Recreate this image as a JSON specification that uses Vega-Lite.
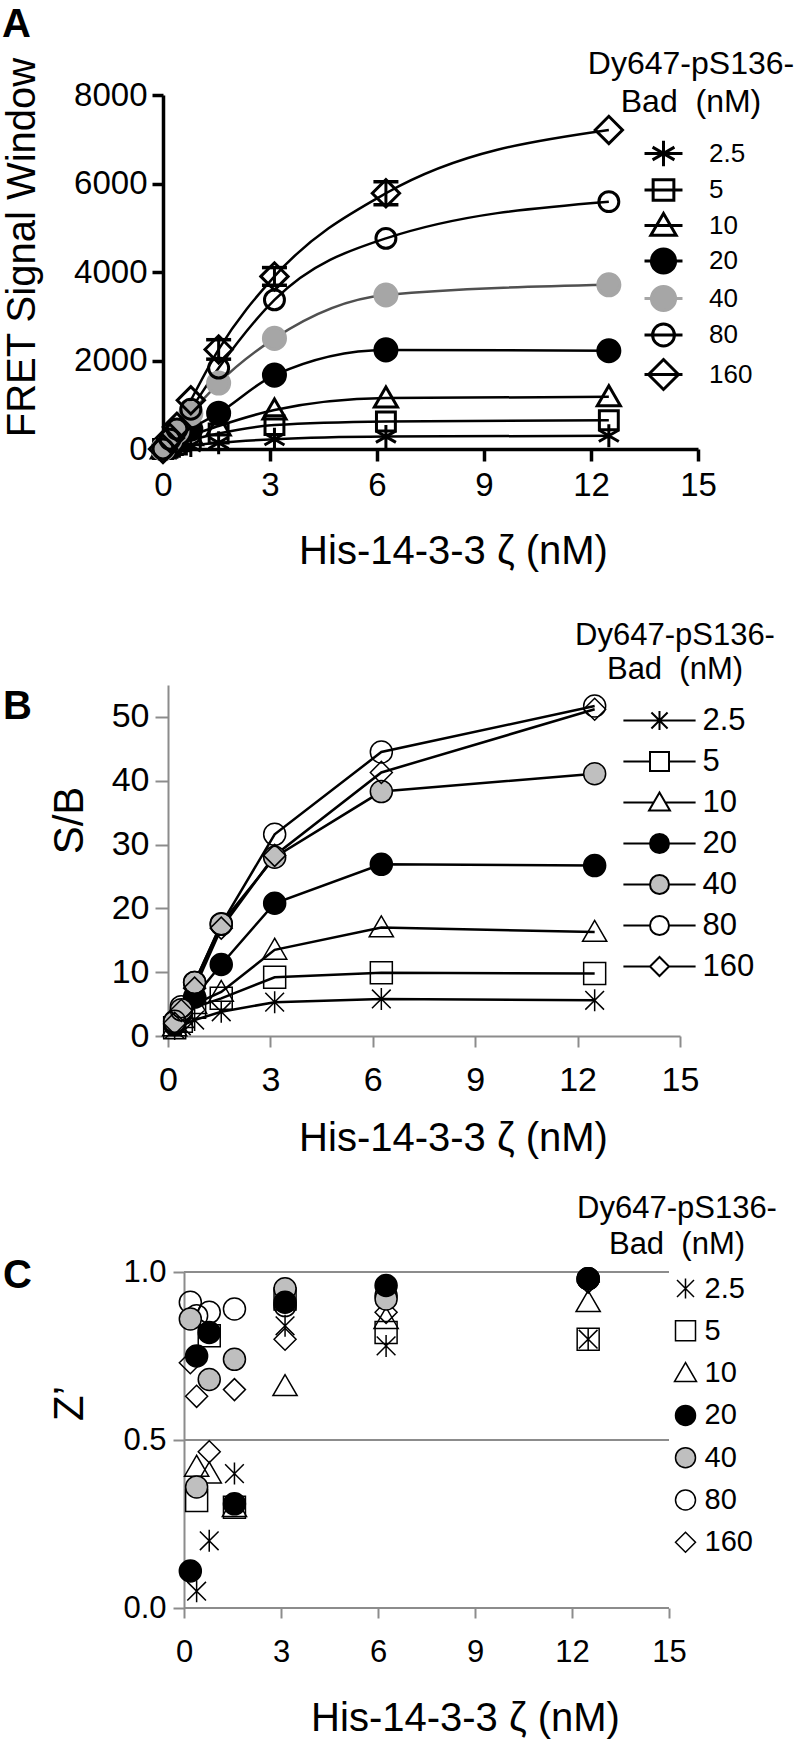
{
  "$schema": "https://vega.github.io/schema/vega-lite/v6.json",
  "autosize": {"type": "none"},
  "padding": {"left": 163, "top": 95, "right": 637, "bottom": 1645},
  "background": "white",
  "spacing": 236,
  "bounds": "flush",
  "resolve": {
    "scale": {"x": "independent", "y": "independent", "shape": "independent", "fill": "independent", "stroke": "independent"},
    "legend": {"shape": "independent", "fill": "independent", "stroke": "independent"}
  },
  "config": {
    "view": {"stroke": null},
    "font": "Liberation Sans",
    "axis": {"grid": false, "labelFont": "Liberation Sans", "titleFont": "Liberation Sans", "labelColor": "black", "titleColor": "black", "titleFontWeight": "normal", "labelFlush": false, "labelOverlap": false},
    "legend": {"titleFont": "Liberation Sans", "labelFont": "Liberation Sans", "titleColor": "black", "labelColor": "black", "titleFontWeight": "normal", "padding": 0, "labelLimit": 0, "titleLimit": 0},
    "title": {"font": "Liberation Sans", "color": "black"}
  },
  "datasets": {
    "A": [
      {"conc": "2.5", "x": 0, "v": 0}, {"conc": "2.5", "x": 0.195, "v": 20}, {"conc": "2.5", "x": 0.39, "v": 40}, {"conc": "2.5", "x": 0.78, "v": 80}, {"conc": "2.5", "x": 1.56, "v": 140}, {"conc": "2.5", "x": 3.125, "v": 220}, {"conc": "2.5", "x": 6.25, "v": 280}, {"conc": "2.5", "x": 12.5, "v": 300},
      {"conc": "5", "x": 0, "v": 0}, {"conc": "5", "x": 0.195, "v": 50}, {"conc": "5", "x": 0.39, "v": 100}, {"conc": "5", "x": 0.78, "v": 200}, {"conc": "5", "x": 1.56, "v": 350}, {"conc": "5", "x": 3.125, "v": 540}, {"conc": "5", "x": 6.25, "v": 620}, {"conc": "5", "x": 12.5, "v": 650},
      {"conc": "10", "x": 0, "v": 0}, {"conc": "10", "x": 0.195, "v": 80}, {"conc": "10", "x": 0.39, "v": 160}, {"conc": "10", "x": 0.78, "v": 300}, {"conc": "10", "x": 1.56, "v": 520}, {"conc": "10", "x": 3.125, "v": 880}, {"conc": "10", "x": 6.25, "v": 1150}, {"conc": "10", "x": 12.5, "v": 1180},
      {"conc": "20", "x": 0, "v": 0}, {"conc": "20", "x": 0.195, "v": 120}, {"conc": "20", "x": 0.39, "v": 230}, {"conc": "20", "x": 0.78, "v": 450}, {"conc": "20", "x": 1.56, "v": 810}, {"conc": "20", "x": 3.125, "v": 1670}, {"conc": "20", "x": 6.25, "v": 2240}, {"conc": "20", "x": 12.5, "v": 2220},
      {"conc": "40", "x": 0, "v": 0}, {"conc": "40", "x": 0.195, "v": 200}, {"conc": "40", "x": 0.39, "v": 400}, {"conc": "40", "x": 0.78, "v": 800}, {"conc": "40", "x": 1.56, "v": 1490}, {"conc": "40", "x": 3.125, "v": 2500}, {"conc": "40", "x": 6.25, "v": 3480}, {"conc": "40", "x": 12.5, "v": 3710},
      {"conc": "80", "x": 0, "v": 0}, {"conc": "80", "x": 0.195, "v": 220}, {"conc": "80", "x": 0.39, "v": 450}, {"conc": "80", "x": 0.78, "v": 900}, {"conc": "80", "x": 1.56, "v": 1830}, {"conc": "80", "x": 3.125, "v": 3370}, {"conc": "80", "x": 6.25, "v": 4760}, {"conc": "80", "x": 12.5, "v": 5590},
      {"conc": "160", "x": 0, "v": 0}, {"conc": "160", "x": 0.195, "v": 250}, {"conc": "160", "x": 0.39, "v": 500}, {"conc": "160", "x": 0.78, "v": 1100}, {"conc": "160", "x": 1.56, "v": 2250}, {"conc": "160", "x": 3.125, "v": 3900}, {"conc": "160", "x": 6.25, "v": 5780}, {"conc": "160", "x": 12.5, "v": 7210}
    ],
    "errA": [
      {"x": 1.56, "lo": 2030, "hi": 2470},
      {"x": 3.125, "lo": 3700, "hi": 4100},
      {"x": 6.25, "lo": 5520, "hi": 6040}
    ],
    "B": [
      {"conc": "2.5", "x": 0.195, "v": 1.1}, {"conc": "2.5", "x": 0.39, "v": 1.6}, {"conc": "2.5", "x": 0.78, "v": 2.5}, {"conc": "2.5", "x": 1.56, "v": 3.8}, {"conc": "2.5", "x": 3.125, "v": 5.3}, {"conc": "2.5", "x": 6.25, "v": 5.8}, {"conc": "2.5", "x": 12.5, "v": 5.6},
      {"conc": "5", "x": 0.195, "v": 1.3}, {"conc": "5", "x": 0.39, "v": 2.3}, {"conc": "5", "x": 0.78, "v": 4.5}, {"conc": "5", "x": 1.56, "v": 5.9}, {"conc": "5", "x": 3.125, "v": 9.2}, {"conc": "5", "x": 6.25, "v": 9.9}, {"conc": "5", "x": 12.5, "v": 9.8},
      {"conc": "10", "x": 0.195, "v": 1.5}, {"conc": "10", "x": 0.39, "v": 2.8}, {"conc": "10", "x": 0.78, "v": 5.0}, {"conc": "10", "x": 1.56, "v": 6.9}, {"conc": "10", "x": 3.125, "v": 13.5}, {"conc": "10", "x": 6.25, "v": 17.0}, {"conc": "10", "x": 12.5, "v": 16.3},
      {"conc": "20", "x": 0.195, "v": 1.8}, {"conc": "20", "x": 0.39, "v": 3.5}, {"conc": "20", "x": 0.78, "v": 6.1}, {"conc": "20", "x": 1.56, "v": 11.2}, {"conc": "20", "x": 3.125, "v": 20.8}, {"conc": "20", "x": 6.25, "v": 26.9}, {"conc": "20", "x": 12.5, "v": 26.7},
      {"conc": "40", "x": 0.195, "v": 2.2}, {"conc": "40", "x": 0.39, "v": 4.1}, {"conc": "40", "x": 0.78, "v": 8.4}, {"conc": "40", "x": 1.56, "v": 17.6}, {"conc": "40", "x": 3.125, "v": 28.0}, {"conc": "40", "x": 6.25, "v": 38.3}, {"conc": "40", "x": 12.5, "v": 41.1},
      {"conc": "80", "x": 0.195, "v": 2.3}, {"conc": "80", "x": 0.39, "v": 4.6}, {"conc": "80", "x": 0.78, "v": 8.4}, {"conc": "80", "x": 1.56, "v": 17.5}, {"conc": "80", "x": 3.125, "v": 31.6}, {"conc": "80", "x": 6.25, "v": 44.5}, {"conc": "80", "x": 12.5, "v": 51.7},
      {"conc": "160", "x": 0.195, "v": 2.0}, {"conc": "160", "x": 0.39, "v": 4.0}, {"conc": "160", "x": 0.78, "v": 7.5}, {"conc": "160", "x": 1.56, "v": 16.9}, {"conc": "160", "x": 3.125, "v": 28.3}, {"conc": "160", "x": 6.25, "v": 41.3}, {"conc": "160", "x": 12.5, "v": 51.2}
    ],
    "C": [
      {"conc": "80", "x": 0.195, "v": 0.91}, {"conc": "80", "x": 0.39, "v": 0.87}, {"conc": "80", "x": 0.78, "v": 0.88}, {"conc": "80", "x": 1.56, "v": 0.89}, {"conc": "80", "x": 3.125, "v": 0.9}, {"conc": "80", "x": 6.25, "v": 0.93}, {"conc": "80", "x": 12.5, "v": 0.98},
      {"conc": "160", "x": 0.195, "v": 0.73}, {"conc": "160", "x": 0.39, "v": 0.63}, {"conc": "160", "x": 0.78, "v": 0.465}, {"conc": "160", "x": 1.56, "v": 0.65}, {"conc": "160", "x": 3.125, "v": 0.8}, {"conc": "160", "x": 6.25, "v": 0.88}, {"conc": "160", "x": 12.5, "v": 0.97},
      {"conc": "10", "x": 0.39, "v": 0.42}, {"conc": "10", "x": 0.78, "v": 0.4}, {"conc": "10", "x": 1.56, "v": 0.3}, {"conc": "10", "x": 3.125, "v": 0.66}, {"conc": "10", "x": 6.25, "v": 0.86}, {"conc": "10", "x": 12.5, "v": 0.91},
      {"conc": "5", "x": 0.39, "v": 0.32}, {"conc": "5", "x": 0.78, "v": 0.81}, {"conc": "5", "x": 1.56, "v": 0.3}, {"conc": "5", "x": 3.125, "v": 0.92}, {"conc": "5", "x": 6.25, "v": 0.82}, {"conc": "5", "x": 12.5, "v": 0.8},
      {"conc": "2.5", "x": 0.39, "v": 0.05}, {"conc": "2.5", "x": 0.78, "v": 0.2}, {"conc": "2.5", "x": 1.56, "v": 0.4}, {"conc": "2.5", "x": 3.125, "v": 0.84}, {"conc": "2.5", "x": 6.25, "v": 0.78}, {"conc": "2.5", "x": 12.5, "v": 0.8},
      {"conc": "40", "x": 0.195, "v": 0.86}, {"conc": "40", "x": 0.39, "v": 0.36}, {"conc": "40", "x": 0.78, "v": 0.68}, {"conc": "40", "x": 1.56, "v": 0.74}, {"conc": "40", "x": 3.125, "v": 0.95}, {"conc": "40", "x": 6.25, "v": 0.92}, {"conc": "40", "x": 12.5, "v": 0.98},
      {"conc": "20", "x": 0.195, "v": 0.11}, {"conc": "20", "x": 0.39, "v": 0.75}, {"conc": "20", "x": 0.78, "v": 0.82}, {"conc": "20", "x": 1.56, "v": 0.31}, {"conc": "20", "x": 3.125, "v": 0.91}, {"conc": "20", "x": 6.25, "v": 0.96}, {"conc": "20", "x": 12.5, "v": 0.98}
    ]
  },
  "vconcat": [
    {
      "width": 535,
      "height": 354,
      "title": {"text": "A", "anchor": "start", "frame": "group", "fontSize": 40, "fontWeight": "bold", "dx": -161, "dy": -4, "offset": 0},
      "data": {"name": "A"},
      "resolve": {
        "scale": {"shape": "independent", "fill": "independent", "stroke": "independent"},
        "legend": {"shape": "independent", "fill": "independent", "stroke": "independent"}
      },
      "layer": [
        {
          "transform": [{"filter": "datum.conc != '40'"}],
          "mark": {"type": "line", "interpolate": "monotone", "strokeWidth": 2.5, "color": "black"},
          "encoding": {
            "x": {"field": "x", "type": "quantitative", "scale": {"domain": [0, 15], "nice": false, "zero": false},
              "axis": {"values": [0, 3, 6, 9, 12, 15], "title": "His-14-3-3 ζ (nM)", "domainColor": "black", "domainWidth": 3.5, "tickColor": "black", "tickWidth": 3.5, "tickSize": 12, "labelFontSize": 33, "labelPadding": 8, "titleFontSize": 40, "titleX": 290, "titleY": 114, "titleAlign": "center", "titleBaseline": "alphabetic"}},
            "y": {"field": "v", "type": "quantitative", "scale": {"domain": [0, 8000], "nice": false},
              "axis": {"values": [0, 2000, 4000, 6000, 8000], "format": "d", "title": "FRET Signal Window", "domainColor": "black", "domainWidth": 3.5, "tickColor": "black", "tickWidth": 3.5, "tickSize": 11, "labelFontSize": 33, "labelPadding": 5, "titleFontSize": 40, "titleX": -129, "titleY": 152, "titleAngle": 270, "titleAlign": "center", "titleBaseline": "alphabetic"}},
            "detail": {"field": "conc", "type": "nominal"}
          }
        },
        {
          "transform": [{"filter": "datum.conc == '40'"}],
          "mark": {"type": "line", "interpolate": "monotone", "strokeWidth": 2.5, "color": "#505050"},
          "encoding": {
            "x": {"field": "x", "type": "quantitative"},
            "y": {"field": "v", "type": "quantitative"}
          }
        },
        {
          "data": {"name": "errA"},
          "mark": {"type": "rule", "strokeWidth": 3, "color": "black"},
          "encoding": {"x": {"field": "x", "type": "quantitative"}, "y": {"field": "lo", "type": "quantitative"}, "y2": {"field": "hi"}}
        },
        {
          "data": {"name": "errA"},
          "mark": {"type": "point", "shape": "M-1,0H1", "size": 625, "strokeWidth": 3.5, "color": "black", "opacity": 1, "filled": false},
          "encoding": {"x": {"field": "x", "type": "quantitative"}, "y": {"field": "lo", "type": "quantitative"}}
        },
        {
          "data": {"name": "errA"},
          "mark": {"type": "point", "shape": "M-1,0H1", "size": 625, "strokeWidth": 3.5, "color": "black", "opacity": 1, "filled": false},
          "encoding": {"x": {"field": "x", "type": "quantitative"}, "y": {"field": "hi", "type": "quantitative"}}
        },
        {
          "mark": {"type": "point", "size": 441, "strokeWidth": 3, "opacity": 1},
          "encoding": {
            "x": {"field": "x", "type": "quantitative"},
            "y": {"field": "v", "type": "quantitative"},
            "shape": {"field": "conc", "type": "nominal",
              "scale": {"domain": ["2.5", "5", "10", "20", "40", "80", "160"], "range": ["M0,-1.1V1.1M-0.95,-0.55L0.95,0.55M-0.95,0.55L0.95,-0.55", "M-0.9,-0.9H0.9V0.9H-0.9Z", "M0,-1.05L-1.1,0.85H1.1Z", "M1.05,0A1.05,1.05,0,1,1,-1.05,0A1.05,1.05,0,1,1,1.05,0Z", "M1.05,0A1.05,1.05,0,1,1,-1.05,0A1.05,1.05,0,1,1,1.05,0Z", "M0.95,0A0.95,0.95,0,1,1,-0.95,0A0.95,0.95,0,1,1,0.95,0Z", "M-1.3,0L0,-1.3L1.3,0L0,1.3Z"]},
              "legend": null},
            "fill": {"field": "conc", "type": "nominal", "scale": {"domain": ["2.5", "5", "10", "20", "40", "80", "160"], "range": ["transparent", "transparent", "transparent", "black", "#a6a6a6", "transparent", "transparent"]}, "legend": null},
            "stroke": {"field": "conc", "type": "nominal", "scale": {"domain": ["2.5", "5", "10", "20", "40", "80", "160"], "range": ["black", "black", "black", "black", "#a6a6a6", "black", "black"]}, "legend": null}
          }
        },
        {
          "mark": {"type": "point", "size": 441, "strokeWidth": 3, "opacity": 0},
          "encoding": {
            "x": {"field": "x", "type": "quantitative"},
            "y": {"field": "v", "type": "quantitative"},
            "shape": {"field": "conc", "type": "nominal",
              "scale": {"domain": ["2.5", "5", "10", "20", "40", "80", "160"], "range": ["M0,-1.1V1.1M-0.95,-0.55L0.95,0.55M-0.95,0.55L0.95,-0.55M-1.65,0H1.65", "M-0.9,-0.9H0.9V0.9H-0.9ZM-1.65,0H1.65", "M0,-1.05L-1.1,0.85H1.1ZM-1.65,0H1.65", "M1.05,0A1.05,1.05,0,1,1,-1.05,0A1.05,1.05,0,1,1,1.05,0ZM-1.65,0H1.65", "M1.05,0A1.05,1.05,0,1,1,-1.05,0A1.05,1.05,0,1,1,1.05,0ZM-1.65,0H1.65", "M0.95,0A0.95,0.95,0,1,1,-0.95,0A0.95,0.95,0,1,1,0.95,0ZM-1.65,0H1.65", "M-1.3,0L0,-1.3L1.3,0L0,1.3ZM-1.65,0H1.65"]},
              "legend": {"orient": "none", "legendX": 425, "legendY": -46, "title": ["Dy647-pS136-", "Bad \u00a0(nM)"], "titleFontSize": 32, "titleAnchor": "middle", "titleAlign": "center", "titleLineHeight": 38, "titlePadding": 21, "labelFontSize": 26, "symbolSize": 530, "symbolStrokeWidth": 3, "symbolOpacity": 1, "symbolOffset": 21, "labelOffset": 32, "rowPadding": 0.5}},
            "fill": {"field": "conc", "type": "nominal", "scale": {"domain": ["2.5", "5", "10", "20", "40", "80", "160"], "range": ["transparent", "transparent", "transparent", "black", "#a6a6a6", "transparent", "transparent"]}, "legend": {"title": ["Dy647-pS136-", "Bad \u00a0(nM)"], "symbolOpacity": 1}},
            "stroke": {"field": "conc", "type": "nominal", "scale": {"domain": ["2.5", "5", "10", "20", "40", "80", "160"], "range": ["black", "black", "black", "black", "#a6a6a6", "black", "black"]}, "legend": {"title": ["Dy647-pS136-", "Bad \u00a0(nM)"], "symbolOpacity": 1}}
          }
        }
      ]
    },
    {
      "width": 517,
      "height": 351,
      "title": {"text": "B", "anchor": "start", "frame": "group", "fontSize": 40, "fontWeight": "bold", "dx": -160, "dy": 106, "offset": 0},
      "data": {"name": "B"},
      "resolve": {
        "scale": {"shape": "independent", "fill": "independent", "stroke": "independent"},
        "legend": {"shape": "independent", "fill": "independent", "stroke": "independent"}
      },
      "layer": [
        {
          "mark": {"type": "line", "strokeWidth": 2.5, "color": "black"},
          "encoding": {
            "x": {"field": "x", "type": "quantitative", "scale": {"domain": [-0.1465, 15], "nice": false, "zero": false},
              "axis": {"values": [0, 3, 6, 9, 12, 15], "title": "His-14-3-3 ζ (nM)", "domainColor": "#8c8c8c", "domainWidth": 2, "tickColor": "#8c8c8c", "tickWidth": 2, "tickSize": 11, "labelFontSize": 34, "labelPadding": 16, "titleFontSize": 40, "titleX": 290, "titleY": 114, "titleAlign": "center", "titleBaseline": "alphabetic"}},
            "y": {"field": "v", "type": "quantitative", "scale": {"domain": [0, 55], "nice": false},
              "axis": {"values": [0, 10, 20, 30, 40, 50], "title": "S/B", "offset": -5, "domainColor": "#8c8c8c", "domainWidth": 2, "tickColor": "#8c8c8c", "tickWidth": 2, "tickSize": 13, "labelFontSize": 34, "labelPadding": 6, "titleFontSize": 42, "titleX": -86, "titleY": 135, "titleAngle": 270, "titleAlign": "center", "titleBaseline": "alphabetic"}},
            "detail": {"field": "conc", "type": "nominal"}
          }
        },
        {
          "mark": {"type": "point", "size": 484, "strokeWidth": 1.5, "opacity": 1},
          "encoding": {
            "x": {"field": "x", "type": "quantitative"},
            "y": {"field": "v", "type": "quantitative"},
            "shape": {"field": "conc", "type": "nominal",
              "scale": {"domain": ["2.5", "5", "10", "20", "40", "80", "160"], "range": ["M0,-1V1M-0.85,-0.85L0.85,0.85M-0.85,0.85L0.85,-0.85", "M-1,-1H1V1H-1Z", "M0,-1.05L-1.1,0.85H1.1Z", "M1,0A1,1,0,1,1,-1,0A1,1,0,1,1,1,0Z", "M1,0A1,1,0,1,1,-1,0A1,1,0,1,1,1,0Z", "M1,0A1,1,0,1,1,-1,0A1,1,0,1,1,1,0Z", "M-1,0L0,-1L1,0L0,1Z"]},
              "legend": null},
            "fill": {"field": "conc", "type": "nominal", "scale": {"domain": ["2.5", "5", "10", "20", "40", "80", "160"], "range": ["transparent", "transparent", "transparent", "black", "#bfbfbf", "transparent", "transparent"]}, "legend": null},
            "stroke": {"field": "conc", "type": "nominal", "scale": {"domain": ["2.5", "5", "10", "20", "40", "80", "160"], "range": ["black", "black", "black", "black", "black", "black", "black"]}, "legend": null}
          }
        },
        {
          "mark": {"type": "point", "size": 484, "strokeWidth": 1.5, "opacity": 0},
          "encoding": {
            "x": {"field": "x", "type": "quantitative"},
            "y": {"field": "v", "type": "quantitative"},
            "shape": {"field": "conc", "type": "nominal",
              "scale": {"domain": ["2.5", "5", "10", "20", "40", "80", "160"], "range": ["M0,-1V1M-0.85,-0.85L0.85,0.85M-0.85,0.85L0.85,-0.85M-3.8,0H3.8", "M-1,-1H1V1H-1ZM-3.8,0H-1M1,0H3.8", "M0,-1.05L-1.1,0.85H1.1ZM-3.8,0H-0.55M0.55,0H3.8", "M1,0A1,1,0,1,1,-1,0A1,1,0,1,1,1,0ZM-3.8,0H-1M1,0H3.8", "M1,0A1,1,0,1,1,-1,0A1,1,0,1,1,1,0ZM-3.8,0H-1M1,0H3.8", "M1,0A1,1,0,1,1,-1,0A1,1,0,1,1,1,0ZM-3.8,0H-1M1,0H3.8", "M-1,0L0,-1L1,0L0,1ZM-3.8,0H-1M1,0H3.8"]},
              "legend": {"orient": "none", "legendX": 412, "legendY": -64, "title": ["Dy647-pS136-", "Bad \u00a0(nM)"], "titleFontSize": 31, "titleAnchor": "middle", "titleAlign": "center", "titleLineHeight": 34, "titlePadding": 19, "labelFontSize": 31, "symbolSize": 361, "symbolStrokeWidth": 2, "symbolOpacity": 1, "symbolOffset": 48, "labelOffset": 27.5, "rowPadding": 9}},
            "fill": {"field": "conc", "type": "nominal", "scale": {"domain": ["2.5", "5", "10", "20", "40", "80", "160"], "range": ["transparent", "transparent", "transparent", "black", "#bfbfbf", "transparent", "transparent"]}, "legend": {"title": ["Dy647-pS136-", "Bad \u00a0(nM)"], "symbolOpacity": 1}},
            "stroke": {"field": "conc", "type": "nominal", "scale": {"domain": ["2.5", "5", "10", "20", "40", "80", "160"], "range": ["black", "black", "black", "black", "black", "black", "black"]}, "legend": {"title": ["Dy647-pS136-", "Bad \u00a0(nM)"], "symbolOpacity": 1}}
          }
        }
      ]
    },
    {
      "width": 506,
      "height": 336,
      "title": {"text": "C", "anchor": "start", "frame": "group", "fontSize": 40, "fontWeight": "bold", "dx": -160, "dy": 102, "offset": 0},
      "layer": [
        {
          "data": {"values": [{}]},
          "mark": {"type": "rule", "color": "#8c8c8c", "strokeWidth": 2},
          "encoding": {"x": {"datum": 0, "type": "quantitative"}, "x2": {"datum": 15}, "y": {"datum": 1, "type": "quantitative"}}
        },
        {
          "data": {"values": [{}]},
          "mark": {"type": "rule", "color": "#8c8c8c", "strokeWidth": 2},
          "encoding": {"x": {"datum": 0, "type": "quantitative"}, "x2": {"datum": 15}, "y": {"datum": 0.5, "type": "quantitative"}}
        },
        {
          "data": {"values": [{}]},
          "mark": {"type": "rule", "color": "#8c8c8c", "strokeWidth": 2},
          "encoding": {"x": {"datum": 0, "type": "quantitative"}, "x2": {"datum": 15}, "y": {"datum": 0, "type": "quantitative"}}
        },
        {
          "data": {"name": "C"},
          "mark": {"type": "point", "size": 484, "strokeWidth": 1.5, "opacity": 1},
          "encoding": {
            "x": {"field": "x", "type": "quantitative", "scale": {"domain": [-0.65, 15], "nice": false, "zero": false},
              "axis": {"values": [0, 3, 6, 9, 12, 15], "title": "His-14-3-3 ζ (nM)", "domain": false, "tickColor": "#8c8c8c", "tickWidth": 2, "tickSize": 10, "labelFontSize": 31, "labelPadding": 19, "titleFontSize": 40, "titleX": 302, "titleY": 122, "titleAlign": "center", "titleBaseline": "alphabetic"}},
            "y": {"field": "v", "type": "quantitative", "scale": {"domain": [0, 1], "nice": false},
              "axis": {"values": [0, 0.5, 1], "format": ".1f", "title": "Z’", "offset": -21, "domainColor": "#8c8c8c", "domainWidth": 2, "tickColor": "#8c8c8c", "tickWidth": 2, "tickSize": 11, "labelFontSize": 31, "labelPadding": 7, "titleFontSize": 42, "titleX": -102, "titleY": 131, "titleAngle": 270, "titleAlign": "center", "titleBaseline": "alphabetic"}},
            "shape": {"field": "conc", "type": "nominal",
              "scale": {"domain": ["2.5", "5", "10", "20", "40", "80", "160"], "range": ["M0,-1V1M-0.85,-0.85L0.85,0.85M-0.85,0.85L0.85,-0.85", "M-1,-1H1V1H-1Z", "M0,-1.05L-1.1,0.85H1.1Z", "M1,0A1,1,0,1,1,-1,0A1,1,0,1,1,1,0Z", "M1,0A1,1,0,1,1,-1,0A1,1,0,1,1,1,0Z", "M1,0A1,1,0,1,1,-1,0A1,1,0,1,1,1,0Z", "M-1,0L0,-1L1,0L0,1Z"]},
              "legend": {"orient": "none", "legendX": 414, "legendY": -78, "title": ["Dy647-pS136-", "Bad \u00a0(nM)"], "titleFontSize": 31, "titleAnchor": "middle", "titleAlign": "center", "titleLineHeight": 36, "titlePadding": 13, "labelFontSize": 29, "symbolSize": 400, "symbolStrokeWidth": 1.5, "symbolOffset": 69, "labelOffset": 4.5, "rowPadding": 12.3}},
            "fill": {"field": "conc", "type": "nominal", "scale": {"domain": ["2.5", "5", "10", "20", "40", "80", "160"], "range": ["transparent", "transparent", "transparent", "black", "#bfbfbf", "transparent", "transparent"]}, "legend": {"title": ["Dy647-pS136-", "Bad \u00a0(nM)"]}},
            "stroke": {"field": "conc", "type": "nominal", "scale": {"domain": ["2.5", "5", "10", "20", "40", "80", "160"], "range": ["black", "black", "black", "black", "black", "black", "black"]}, "legend": {"title": ["Dy647-pS136-", "Bad \u00a0(nM)"]}}
          }
        }
      ]
    }
  ]
}
